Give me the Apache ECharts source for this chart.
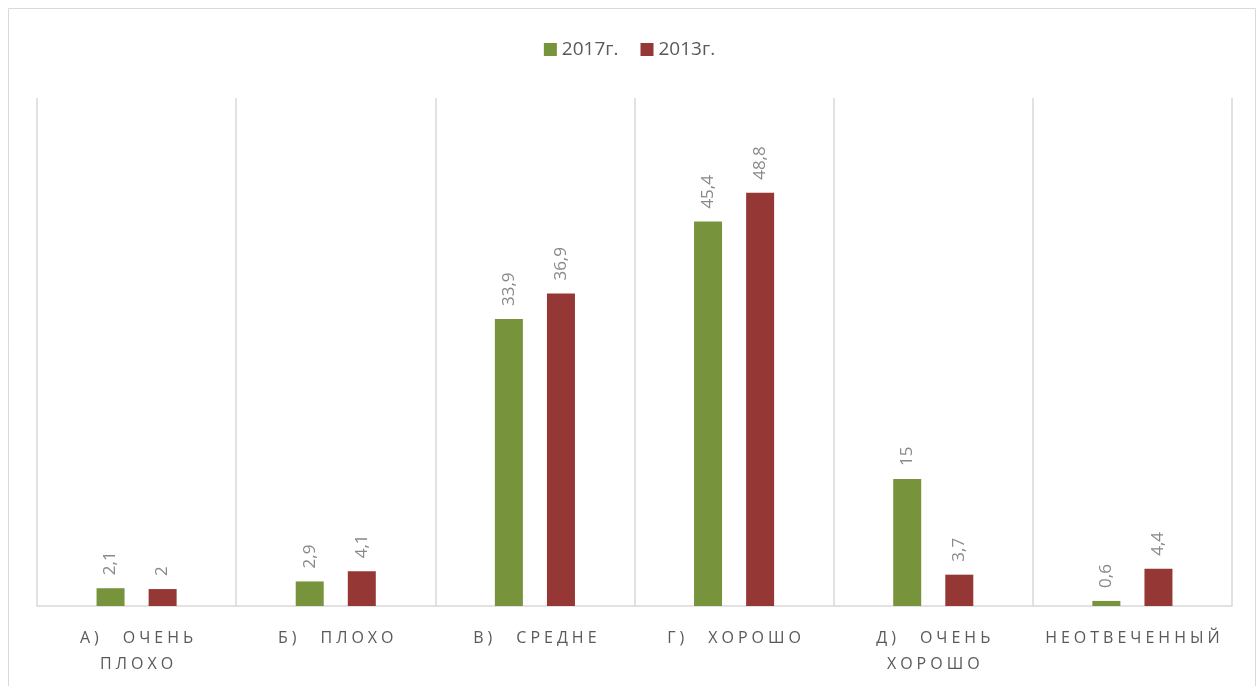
<!DOCTYPE html>
<html>
<head>
<meta charset="utf-8">
<script src="https://cdn.jsdelivr.net/npm/echarts@6/dist/echarts.min.js"></script>
<style>
  html, body { margin: 0; padding: 0; background: #fff; }
  #chart { width: 1259px; height: 686px; }
</style>
</head>
<body>
<div id="chart"></div>
<script>
var categories = ['А) ОЧЕНЬ ПЛОХО', 'Б) ПЛОХО', 'В) СРЕДНЕ', 'Г) ХОРОШО', 'Д) ОЧЕНЬ ХОРОШО', 'НЕОТВЕЧЕННЫЙ'];
var values2017 = [2.1, 2.9, 33.9, 45.4, 15, 0.6];
var values2013 = [2, 4.1, 36.9, 48.8, 3.7, 4.4];
var seriesNames = ['2017г.', '2013г.'];

var chartDom = document.getElementById('chart');
var myChart = echarts.init(chartDom);

// spread letters like the spaced-out axis labels of the original
function spaced(text) {
  var words = text.split(' ');
  return words.map(function (w) { return w.split('').join('\u2005'); });
}

function catLabel(value) {
  var words = spaced(value);
  if (words.length === 3) {
    return words[0] + '\u2003\u2002' + words[1] + '\n' + words[2];
  }
  return words.join('\u2003\u2002');
}

function numLabel(p) {
  return String(p.value).replace('.', ',');
}

var labelStyle = {
  show: true,
  position: 'top',
  rotate: 90,
  align: 'left',
  verticalAlign: 'middle',
  distance: 13,
  color: '#898989',
  fontSize: 17,
  fontFamily: 'Open Sans',
  formatter: numLabel
};

var option = {
  backgroundColor: '#fff',
  color: ['#77933C', '#953735'],
  graphic: [{
    type: 'rect',
    shape: { x: 8.5, y: 8.5, width: 1247, height: 700 },
    style: { fill: 'none', stroke: '#d9d9d9', lineWidth: 1 },
    silent: true
  }],
  legend: {
    top: 35,
    left: 'center',
    itemWidth: 13,
    itemHeight: 13,
    itemGap: 22,
    icon: 'rect',
    textStyle: { color: '#595959', fontSize: 19, fontFamily: 'Open Sans' },
    data: seriesNames
  },
  grid: { left: 37, right: 27, top: 98, bottom: 80 },
  xAxis: {
    type: 'category',
    data: categories,
    axisLine: { lineStyle: { color: '#d9d9d9', width: 1.5 } },
    axisTick: { show: false },
    splitLine: { show: true, lineStyle: { color: '#d9d9d9', width: 1.5 } },
    axisLabel: {
      color: '#595959',
      fontSize: 16,
      fontFamily: 'Open Sans',
      margin: 19,
      lineHeight: 26,
      interval: 0,
      formatter: catLabel
    }
  },
  yAxis: {
    type: 'value',
    min: 0,
    max: 60,
    show: false,
    splitLine: { show: false }
  },
  series: [
    {
      name: seriesNames[0],
      type: 'bar',
      barWidth: 28,
      barGap: '86%',
      label: labelStyle,
      data: values2017
    },
    {
      name: seriesNames[1],
      type: 'bar',
      barWidth: 28,
      barGap: '86%',
      label: labelStyle,
      data: values2013
    }
  ]
};

option && myChart.setOption(option);
</script>
</body>
</html>
